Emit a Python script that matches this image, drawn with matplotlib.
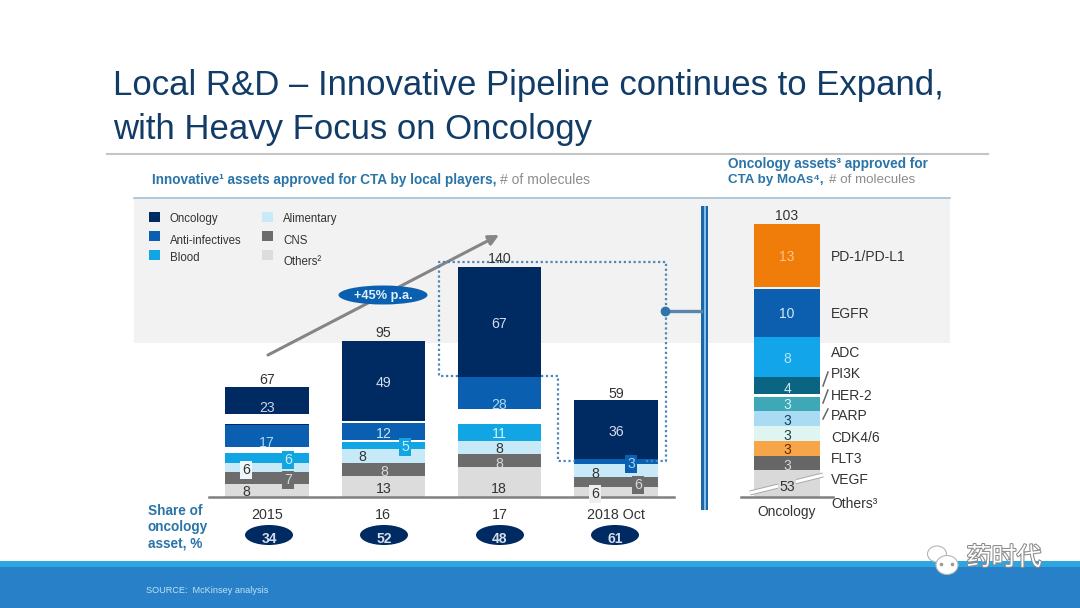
#!/usr/bin/env python3
"""Local R&D slide: stacked bars of innovative assets plus oncology breakdown by MoA."""

import matplotlib
matplotlib.use('Agg')
import matplotlib.pyplot as plt
import matplotlib.patheffects as pe
from matplotlib.patches import Rectangle, Ellipse, FancyArrowPatch

plt.rcParams['font.family'] = ['Liberation Sans', 'DejaVu Sans']

W, H = 1080, 608

# ── data ──
years = ['2015', '16', '17', '2018 Oct']
others = [8, 13, 18, 6]
cns = [7, 8, 8, 6]
alimentary = [6, 8, 8, 8]
blood = [6, 5, 11, 0]
anti_infectives = [17, 12, 28, 3]
oncology = [23, 49, 67, 36]
totals = [67, 95, 140, 59]
onc_share = [34, 52, 48, 61]

moa_names = ['VEGF', 'FLT3', 'CDK4/6', 'PARP', 'HER-2', 'PI3K', 'ADC', 'EGFR', 'PD-1/PD-L1']
moa_values = [3, 3, 3, 3, 3, 4, 8, 10, 13]
moa_others = 53
moa_total = 103

# the Others segment sits on a broken axis, so it is drawn much shorter than 53
OTHERS_DRAWN = 5.4

# ── styles ──
NAVY = '#002a62'
BLUE = '#0b5fb0'
SKY = '#12a5e3'
PALE = '#c8e9f8'
DGREY = '#6c6c6c'
LGREY = '#dcdcdc'
TXT = '#333333'
HEAD = '#2a74a8'
series = [(others, LGREY), (cns, DGREY), (alimentary, PALE), (blood, SKY),
          (anti_infectives, BLUE), (oncology, NAVY)]
moa_colors = ['#666666', '#f6a548', '#dff5f1', '#a9dcf3', '#3fa8b6', '#0b6482',
              '#12a5ea', '#0b5fae', '#f07d0a']

fig = plt.figure(figsize=(W / 100, H / 100), dpi=100, facecolor='white')


def px_axes(x0, x1, y_top, y_bottom, z):
    a = fig.add_axes([x0 / W, 1 - y_bottom / H, (x1 - x0) / W, (y_bottom - y_top) / H], zorder=z)
    a.patch.set_alpha(0)
    return a


# background layer and overlay share pixel coordinates
bg = px_axes(0, W, 0, H, 0)
bg.set_xlim(0, W)
bg.set_ylim(H, 0)
bg.axis('off')
top = px_axes(0, W, 0, H, 5)
top.set_xlim(0, W)
top.set_ylim(H, 0)
top.axis('off')

# Title and header
bg.text(113, 86, 'Local R&D – Innovative Pipeline continues to Expand,', fontsize=25,
        color='#123c68', va='center')
bg.text(113, 129, 'with Heavy Focus on Oncology', fontsize=25, color='#123c68', va='center')
bg.plot([107, 988], [154, 154], color='#c4c4c4', lw=1.5)

bg.text(152, 180, 'Innovative¹ assets approved for CTA by local players,', fontsize=9.8,
        color=HEAD, fontweight='bold', va='center')
bg.text(500, 180, '# of molecules', fontsize=10, color='#8c8c8c', va='center')
bg.text(728, 164, 'Oncology assets³ approved for', fontsize=9.8, color=HEAD,
        fontweight='bold', va='center')
bg.text(728, 180, 'CTA by MoAs⁴,', fontsize=9.6, color=HEAD, fontweight='bold', va='center')
bg.text(829, 180, '# of molecules', fontsize=9.6, color='#8c8c8c', va='center')

# Grey panel
bg.add_patch(Rectangle((134, 198), 816, 145, facecolor='#f2f2f2', edgecolor='none'))
bg.plot([134, 950], [197.5, 197.5], color='#a9c6da', lw=1.3)

# Legend
legend_items = [(149, 212, 170, 218, 'Oncology', NAVY), (149, 231, 170, 240, 'Anti-infectives', BLUE),
                (149, 250, 170, 257, 'Blood', SKY), (262, 212, 283, 218, 'Alimentary', PALE),
                (262, 231, 283, 240, 'CNS', DGREY), (262, 250, 283, 261, 'Others²', LGREY)]
for sx, sy, tx, ty, name, color in legend_items:
    bg.add_patch(Rectangle((sx, sy), 11, 10, facecolor=color, edgecolor='none'))
    bg.text(tx, ty + 1, name, fontsize=8.3, color=TXT, va='center')

# Main stacked bars
bars = px_axes(208.8, 674.2, 267, 497, 2)
bars.set_xlim(-0.5, 3.5)
bars.set_ylim(0, 140)
xs = list(range(len(years)))
bottom = [0] * len(years)
for values, color in series:
    bars.bar(xs, values, bottom=bottom, width=0.715, color=color, linewidth=0)
    bottom = [b + v for b, v in zip(bottom, values)]
for s in ['top', 'left', 'right']:
    bars.spines[s].set_visible(False)
bars.spines['bottom'].set_color('#808080')
bars.spines['bottom'].set_linewidth(1.8)
bars.set_yticks([])
bars.set_xticks(xs, years, fontsize=10.3, color=TXT)
bars.tick_params(axis='x', length=0, pad=8)

# White breaks cut through the bars in the source slide
for x0, y0, hh in [(224, 413.5, 10.5), (224, 446.5, 6.5), (457, 408.7, 15.3),
                   (341, 421.3, 1.6), (341, 439.5, 2)]:
    top.add_patch(Rectangle((x0, y0), 86, hh, facecolor='white', edgecolor='none'))

# Segment labels: (series, bar index, x, y, text colour, box colour)
label_spots = [
    (oncology, 0, 267, 407, '#c9d6e6', None), (anti_infectives, 0, 267, 442, '#a9d8f0', None),
    (blood, 0, 288, 459, '#c8ecf9', SKY), (alimentary, 0, 246, 469, TXT, '#eef8fc'),
    (cns, 0, 288, 479, '#d8d8d8', DGREY), (others, 0, 246, 491, TXT, None),
    (oncology, 1, 384, 382, '#d5deea', None), (anti_infectives, 1, 384, 433, '#c8e4f5', None),
    (blood, 1, 405, 446, '#c8ecf9', SKY), (alimentary, 1, 362, 456, TXT, None),
    (cns, 1, 384, 471, '#d8d8d8', None), (others, 1, 384, 488, TXT, None),
    (oncology, 2, 499, 323, '#d5deea', None), (anti_infectives, 2, 499, 404, '#a9d8f0', None),
    (blood, 2, 499, 433, '#d5f1fb', None), (alimentary, 2, 499, 448, TXT, None),
    (cns, 2, 499, 463, '#d8d8d8', None), (others, 2, 499, 488, TXT, None),
    (oncology, 3, 616, 431, '#d5deea', None), (anti_infectives, 3, 631, 463, '#9fd4f0', BLUE),
    (alimentary, 3, 595, 473, TXT, None), (cns, 3, 638, 484, '#d8d8d8', DGREY),
    (others, 3, 595, 493, TXT, '#eeeeee'),
]
for vals, i, x, y, color, box in label_spots:
    kw = {}
    if box:
        kw['bbox'] = dict(boxstyle='square,pad=0.12', facecolor=box, edgecolor='none')
    top.text(x, y + 1, str(vals[i]), fontsize=10.2, color=color, ha='center', va='center', **kw)

# Totals
for x, y, t in zip([267, 383.5, 499.5, 616], [379, 332, 258, 393], totals):
    top.text(x, y + 1, str(t), fontsize=10.2, color=TXT, ha='center', va='center')

# Growth arrow
top.add_patch(FancyArrowPatch((268, 355), (499, 235), arrowstyle='-|>', mutation_scale=15,
                              color='#858585', lw=2.2, shrinkA=0, shrinkB=0))
top.add_patch(Ellipse((383, 295), 89, 19, facecolor=BLUE, edgecolor='none'))
top.text(383, 295.5, '+45% p.a.', fontsize=9.2, color='#dff1fb', fontweight='bold',
         ha='center', va='center')

# Dotted callout around the oncology segments
dot_x = [458, 439, 439, 666, 666, 644]
dot_y = [376, 376, 262, 262, 461, 461]
top.plot(dot_x, dot_y, color='#4b86b8', lw=1.6, ls=(0, (1, 1.2)))
top.plot([541, 558, 558, 575], [376, 376, 461, 461], color='#4b86b8', lw=1.6, ls=(0, (1, 1.2)))
top.plot([665, 701], [311, 311], color='#5b86ab', lw=2.4)
top.plot([665], [311], 'o', color='#2f74ad', ms=6)

# Share of oncology row
for i, line in enumerate(['Share of', 'oncology', 'asset, %']):
    top.text(148, 511 + i * 16.5, line, fontsize=9.8, color=HEAD, fontweight='bold', va='center')
for x, share in zip([269, 384, 500, 615], onc_share):
    top.add_patch(Ellipse((x, 535), 48, 20, facecolor=NAVY, edgecolor='none'))
    top.text(x, 539, str(share), fontsize=10, color='#d5deea', fontweight='bold',
             ha='center', va='center')

# Divider between the two panels
bg.add_patch(Rectangle((701, 206), 7, 304, facecolor='#1d66a8', edgecolor='none'))
bg.add_patch(Rectangle((703.5, 206), 2, 304, facecolor='#7cc0ec', edgecolor='none'))

# Oncology by MoA
moa = px_axes(741, 833, 224, 497, 2)
moa.set_xlim(-0.5, 0.5)
moa.set_ylim(0, 50 + OTHERS_DRAWN)
moa.bar([0], [OTHERS_DRAWN], width=0.707, color='#d9d9d9', linewidth=0)
level = OTHERS_DRAWN
for v, c in zip(moa_values, moa_colors):
    moa.bar([0], [v], bottom=[level], width=0.707, color=c, linewidth=0)
    level += v
for s in ['top', 'left', 'right']:
    moa.spines[s].set_visible(False)
moa.spines['bottom'].set_color('#808080')
moa.spines['bottom'].set_linewidth(1.8)
moa.set_yticks([])
moa.set_xticks([0], ['Oncology'], fontsize=9.9, color=TXT)
moa.tick_params(axis='x', length=0, pad=6)

# White gaps between a few segments
top.add_patch(Rectangle((753, 394), 67, 3.3, facecolor='white', edgecolor='none'))
top.add_patch(Rectangle((753, 287), 67, 1.6, facecolor='#f2f2f2', edgecolor='none'))

moa_num_y = [465, 449, 435, 420, 404, 388, 358, 313, 256]
moa_num_col = ['#d8d8d8', '#6a2a00', '#1f3f4a', '#123f5c', '#d5f1f5', '#c8ecf2', '#b6e4fa',
               '#d5e8f7', '#fbc48c']
moa_lab_y = [479, 458, 437, 415, 395, 373, 352, 313, 256]
for v, ny, nc, name, ly in zip(moa_values, moa_num_y, moa_num_col, moa_names, moa_lab_y):
    top.text(787, ny + 1, str(v), fontsize=10, color=nc, ha='center', va='center')
    top.text(831, ly + 1, name, fontsize=10, color=TXT, va='center')
top.text(831, 504, 'Others³', fontsize=10, color=TXT, va='center')
top.text(787, 216, str(moa_total), fontsize=10, color=TXT, ha='center', va='center')

# Axis break and leader lines
top.plot([750, 823], [493, 475], color='#a8a8a8', lw=3.6, solid_capstyle='butt')
top.plot([750, 823], [493, 475], color='white', lw=2.2, solid_capstyle='butt')
top.text(787, 487, str(moa_others), fontsize=10.2, color=TXT, ha='center', va='center',
         bbox=dict(boxstyle='square,pad=0.1', facecolor='#d9d9d9', edgecolor='none'))
for y0, y1 in [(386, 372), (403, 390), (419, 409)]:
    top.plot([823, 828], [y0, y1], color='#666666', lw=1.1)

# Footer band
bg.add_patch(Rectangle((0, 566), W, H - 566, facecolor='#2880c8', edgecolor='none'))
bg.add_patch(Rectangle((0, 561), W, 6, facecolor='#2ca6e0', edgecolor='none'))
bg.text(146, 590.5, 'SOURCE:  McKinsey analysis', fontsize=6.6, color='#bfe3f7', va='center')

# Watermark
halo = [pe.withStroke(linewidth=1.5, foreground='#8a8a8a')]
top.add_patch(Ellipse((937, 554), 19, 16, facecolor='white', edgecolor='#b5b5b5', lw=0.8))
top.add_patch(Ellipse((947, 565), 22, 19, facecolor='white', edgecolor='#b5b5b5', lw=0.8))
top.plot([941, 952], [564, 564], 'o', color='#9a9a9a', ms=1.6)
top.text(1004, 558, '药时代', fontsize=18, color='white', ha='center', va='center',
         family=['Noto Sans CJK SC', 'DejaVu Sans'], path_effects=halo)

plt.savefig('out.png', dpi=100, facecolor='white')
plt.close()
